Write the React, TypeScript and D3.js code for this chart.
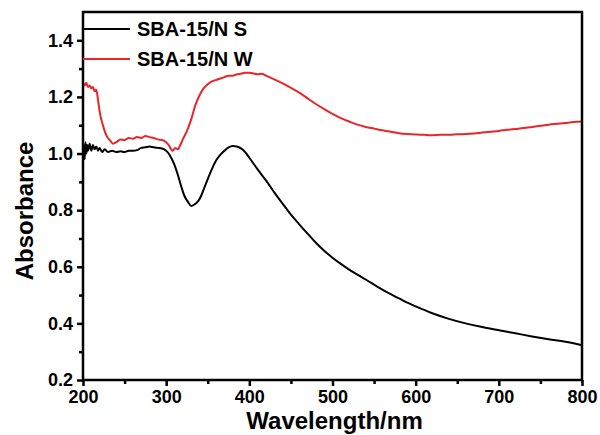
import React, { useEffect, useRef } from 'react';
import * as d3 from 'd3';

// wavelength (nm) / absorbance pairs
const nsWave = [200, 201, 202, 203, 204, 205, 206, 208, 210, 212, 214, 216, 218, 220, 223, 226, 230, 235, 240, 245, 250, 255, 260, 265, 270, 275, 280, 285, 290, 295, 300, 303, 306, 310, 314, 318, 322, 326, 330, 334, 338, 342, 346, 350, 355, 360, 365, 370, 375, 380, 385, 390, 395, 400, 410, 420, 430, 440, 450, 460, 470, 480, 490, 500, 510, 520, 530, 540, 550, 560, 570, 580, 590, 600, 620, 640, 660, 680, 700, 720, 740, 760, 780, 800];
const nsAbs = [1.0, 1.03, 0.98, 1.04, 1.0, 1.03, 1.01, 1.035, 1.01, 1.03, 1.015, 1.025, 1.01, 1.02, 1.005, 1.015, 1.005, 1.01, 1.005, 1.008, 1.005, 1.01, 1.01, 1.012, 1.02, 1.022, 1.025, 1.022, 1.02, 1.018, 1.01, 1.0, 0.985, 0.96, 0.925, 0.885, 0.85, 0.83, 0.815, 0.82, 0.83, 0.85, 0.88, 0.91, 0.945, 0.975, 0.995, 1.01, 1.022, 1.027, 1.025, 1.018, 1.005, 0.985, 0.944, 0.905, 0.863, 0.823, 0.784, 0.75, 0.717, 0.685, 0.657, 0.632, 0.61, 0.59, 0.572, 0.555, 0.537, 0.519, 0.503, 0.488, 0.473, 0.46, 0.436, 0.416, 0.4, 0.387, 0.376, 0.365, 0.354, 0.344, 0.335, 0.323];

const nwWave = [200, 202, 204, 206, 208, 210, 212, 214, 216, 218, 220, 222, 224, 226, 228, 230, 233, 236, 240, 245, 250, 255, 260, 265, 270, 275, 280, 285, 290, 295, 300, 303, 306, 308, 311, 314, 317, 320, 325, 330, 335, 340, 345, 350, 355, 360, 365, 370, 375, 380, 385, 390, 395, 400, 405, 410, 415, 420, 430, 440, 450, 460, 470, 480, 490, 500, 510, 520, 530, 540, 550, 560, 570, 580, 590, 600, 610, 620, 630, 640, 650, 660, 670, 680, 690, 700, 710, 720, 730, 740, 750, 760, 770, 780, 790, 800];
const nwAbs = [1.25, 1.24, 1.25, 1.235, 1.24, 1.23, 1.235, 1.22, 1.225, 1.19, 1.15, 1.12, 1.1, 1.08, 1.065, 1.055, 1.045, 1.035, 1.04, 1.05, 1.048, 1.055, 1.052, 1.058, 1.055, 1.062, 1.058, 1.055, 1.05, 1.048, 1.04, 1.03, 1.015, 1.01, 1.02, 1.015, 1.03, 1.05, 1.08, 1.12, 1.17, 1.205, 1.23, 1.245, 1.255, 1.26, 1.265, 1.27, 1.275, 1.275, 1.28, 1.282, 1.285, 1.285, 1.283, 1.28, 1.282, 1.275, 1.262, 1.248, 1.232, 1.215, 1.195, 1.175, 1.157, 1.14, 1.125, 1.113, 1.102, 1.094, 1.088, 1.082, 1.077, 1.072, 1.069, 1.067, 1.066, 1.065, 1.066, 1.066, 1.068, 1.069, 1.071, 1.074, 1.077, 1.08, 1.084, 1.087, 1.09, 1.094, 1.098, 1.102, 1.105, 1.108, 1.111, 1.113];

const xTicks = [200, 300, 400, 500, 600, 700, 800];
const yTicks = [0.2, 0.4, 0.6, 0.8, 1.0, 1.2, 1.4];
const seriesNames = ['SBA-15/N S', 'SBA-15/N W'];
const seriesColors = ['#000000', '#e8262a'];

const App = () => {
  const svgRef = useRef<SVGSVGElement>(null);

  useEffect(() => {
    const width = 600;
    const height = 435;
    const m = { left: 83, right: 18, top: 12, bottom: 55 };
    const font = 'Liberation Sans, Arial, sans-serif';

    const svg = d3.select(svgRef.current);
    svg.selectAll('*').remove();
    svg.attr('width', width).attr('height', height);

    const x = d3.scaleLinear().domain([200, 800]).range([m.left, width - m.right]);
    const y = d3.scaleLinear().domain([0.2, 1.5]).range([height - m.bottom, m.top]);

    const line = d3.line<[number, number]>()
      .x(d => x(d[0]))
      .y(d => y(d[1]))
      .curve(d3.curveMonotoneX);

    const series = [
      d3.zip(nsWave, nsAbs) as [number, number][],
      d3.zip(nwWave, nwAbs) as [number, number][],
    ];

    series.forEach((s, i) => {
      svg.append('path')
        .datum(s)
        .attr('d', line)
        .attr('fill', 'none')
        .attr('stroke', seriesColors[i])
        .attr('stroke-width', 2)
        .attr('stroke-linejoin', 'round');
    });

    // frame
    svg.append('rect')
      .attr('x', m.left)
      .attr('y', m.top)
      .attr('width', width - m.left - m.right)
      .attr('height', height - m.top - m.bottom)
      .attr('fill', 'none')
      .attr('stroke', '#000')
      .attr('stroke-width', 2.5);

    // x axis
    const xAxis = svg.append('g').attr('transform', `translate(0,${height - m.bottom})`);
    xAxis.call(d3.axisBottom(x).tickValues(xTicks).tickSize(6).tickFormat(d3.format('d')));
    xAxis.append('g').call(
      d3.axisBottom(x).tickValues(d3.range(250, 800, 100)).tickSize(4).tickFormat(() => '')
    );
    xAxis.selectAll('.domain').remove();
    xAxis.selectAll('line').attr('stroke-width', 2.5);
    xAxis.selectAll('text')
      .attr('font-family', font)
      .attr('font-weight', 'bold')
      .attr('font-size', 18)
      .attr('y', 7)
      .attr('dy', '0.9em')
      .attr('fill', '#000');

    // y axis
    const yAxis = svg.append('g').attr('transform', `translate(${m.left},0)`);
    yAxis.call(d3.axisLeft(y).tickValues(yTicks).tickSize(6).tickFormat(d3.format('.1f')));
    yAxis.append('g').call(
      d3.axisLeft(y).tickValues([0.3, 0.5, 0.7, 0.9, 1.1, 1.3]).tickSize(4).tickFormat(() => '')
    );
    yAxis.selectAll('.domain').remove();
    yAxis.selectAll('line').attr('stroke-width', 2.5);
    yAxis.selectAll('text')
      .attr('font-family', font)
      .attr('font-weight', 'bold')
      .attr('font-size', 18)
      .attr('x', -10)
      .attr('fill', '#000');

    // axis titles
    svg.append('text')
      .attr('x', (m.left + width - m.right) / 2 + 2)
      .attr('y', 429)
      .attr('text-anchor', 'middle')
      .attr('font-family', font)
      .attr('font-weight', 'bold')
      .attr('font-size', 24)
      .text('Wavelength/nm');

    svg.append('text')
      .attr('transform', 'translate(33,211) rotate(-90)')
      .attr('text-anchor', 'middle')
      .attr('font-family', font)
      .attr('font-weight', 'bold')
      .attr('font-size', 24)
      .text('Absorbance');

    // legend
    seriesNames.forEach((name, i) => {
      const ly = 29 + i * 30;
      svg.append('line')
        .attr('x1', m.left)
        .attr('x2', 130)
        .attr('y1', ly)
        .attr('y2', ly)
        .attr('stroke', seriesColors[i])
        .attr('stroke-width', 2);
      svg.append('text')
        .attr('x', 137)
        .attr('y', ly)
        .attr('dy', '0.36em')
        .attr('font-family', font)
        .attr('font-weight', 'bold')
        .attr('font-size', 20)
        .text(name);
    });
  }, []);

  return <svg ref={svgRef} style={{ position: 'absolute', left: 0, top: 0 }}></svg>;
};

export default App;
